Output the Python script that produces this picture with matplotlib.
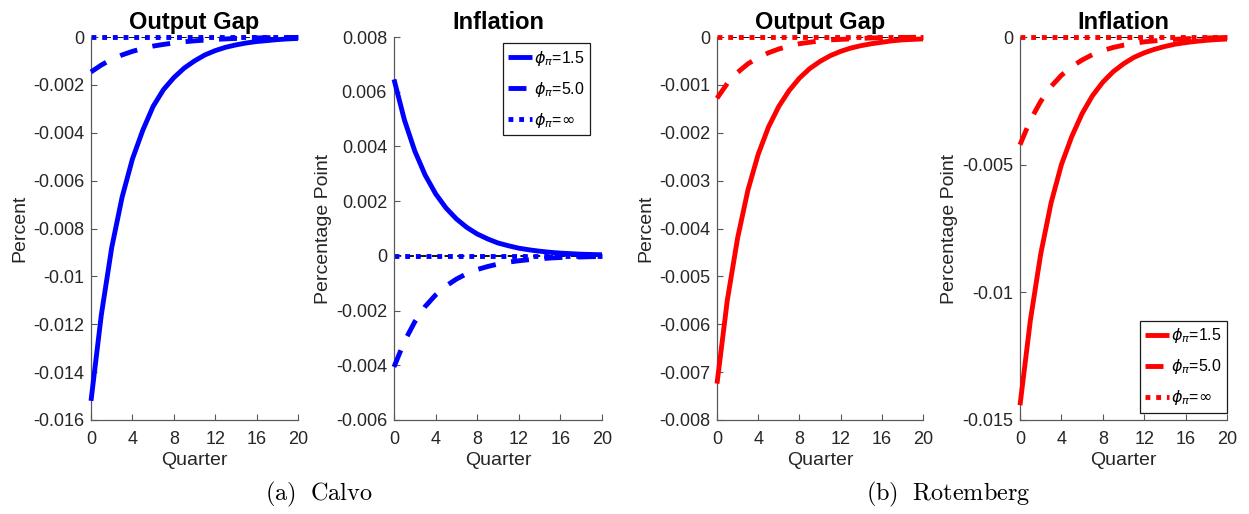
"""Impulse responses of output gap and inflation, Calvo vs Rotemberg pricing."""

import matplotlib
matplotlib.use("Agg")
import matplotlib.pyplot as plt

QUARTERS = list(range(21))

# (a) Calvo
CALVO_GAP_15 = [-0.0152, -0.0116, -0.0088, -0.0067, -0.0051, -0.0039, -0.0029, -0.0022,
                -0.0017, -0.0013, -0.0010, -0.00075, -0.00057, -0.00043, -0.00033,
                -0.00025, -0.00019, -0.00015, -0.00011, -0.00008, -0.00006]
CALVO_GAP_50 = [-0.00146, -0.00117, -0.00093, -0.00075, -0.0006, -0.00048, -0.00038,
                -0.00031, -0.00025, -0.0002, -0.00016, -0.00013, -0.0001, -0.00008,
                -0.00006, -0.00005, -0.00004, -0.00003, -0.000025, -0.00002, -0.000016]
CALVO_INF_15 = [0.00645, 0.00497, 0.00383, 0.00295, 0.00227, 0.00175, 0.00135, 0.00104,
                0.0008, 0.00062, 0.00047, 0.00037, 0.00028, 0.00022, 0.00017, 0.00013,
                0.0001, 0.00008, 0.00006, 0.00005, 0.00004]
CALVO_INF_50 = [-0.00406, -0.00313, -0.00241, -0.00185, -0.00143, -0.0011, -0.00085,
                -0.00065, -0.0005, -0.00039, -0.0003, -0.00023, -0.00018, -0.00014,
                -0.00011, -0.00008, -0.00006, -0.00005, -0.00004, -0.00003, -0.00002]

# (b) Rotemberg
ROT_GAP_15 = [-0.00724, -0.0055, -0.0042, -0.0032, -0.00245, -0.00188, -0.00145, -0.00112,
              -0.00086, -0.00066, -0.00051, -0.00039, -0.0003, -0.00023, -0.00018,
              -0.00014, -0.00011, -0.00008, -0.00006, -0.00005, -0.00004]
ROT_GAP_50 = [-0.00128, -0.00097, -0.00074, -0.00056, -0.00043, -0.00033, -0.00025,
              -0.00019, -0.00014, -0.00011, -0.00008, -0.00006, -0.00005, -0.00004,
              -0.00003, -0.00002, -0.000015, -0.000012, -0.000009, -0.000007, -0.000005]
ROT_INF_15 = [-0.01442, -0.0111, -0.0085, -0.0065, -0.005, -0.0039, -0.003, -0.0023,
              -0.00177, -0.00136, -0.00105, -0.0008, -0.00062, -0.00048, -0.00037,
              -0.00028, -0.00022, -0.00017, -0.00013, -0.0001, -0.00008]
ROT_INF_50 = [-0.00422, -0.00326, -0.00252, -0.00194, -0.0015, -0.00116, -0.0009,
              -0.00069, -0.00053, -0.00041, -0.00032, -0.00025, -0.00019, -0.00015,
              -0.00011, -0.00009, -0.00007, -0.00005, -0.00004, -0.00003, -0.00002]

# phi_pi = infinity: both variables stay at zero
STRICT = [0.0] * 21

X_TICKS = [0, 4, 8, 12, 16, 20]
YT_CALVO_GAP = [-0.016, -0.014, -0.012, -0.01, -0.008, -0.006, -0.004, -0.002, 0]
YL_CALVO_GAP = ["-0.016", "-0.014", "-0.012", "-0.01", "-0.008", "-0.006", "-0.004", "-0.002", "0"]
YT_CALVO_INF = [-0.006, -0.004, -0.002, 0, 0.002, 0.004, 0.006, 0.008]
YL_CALVO_INF = ["-0.006", "-0.004", "-0.002", "0", "0.002", "0.004", "0.006", "0.008"]
YT_ROT_GAP = [-0.008, -0.007, -0.006, -0.005, -0.004, -0.003, -0.002, -0.001, 0]
YL_ROT_GAP = ["-0.008", "-0.007", "-0.006", "-0.005", "-0.004", "-0.003", "-0.002", "-0.001", "0"]
YT_ROT_INF = [-0.015, -0.01, -0.005, 0]
YL_ROT_INF = ["-0.015", "-0.01", "-0.005", "0"]

LABELS = [r"$\phi_{\pi}$=1.5", r"$\phi_{\pi}$=5.0", r"$\phi_{\pi}$=$\infty$"]

FONT = ["Liberation Sans", "DejaVu Sans"]
W, H = 1249, 514


def px_rect(left, right, top, bottom):
    return [left / W, 1 - bottom / H, (right - left) / W, (bottom - top) / H]


def panel(fig, rect, title, ylabel, solid, dashed, color, yticks, ylabels, legend=None):
    ax = fig.add_axes(rect)
    ax.axhline(0, color="k", ls=(0, (4, 3)), lw=1.3, zorder=1)
    lw = 3.5
    ax.plot(QUARTERS, solid, color=color, lw=lw, solid_capstyle="butt",
            clip_on=False, zorder=3, label=LABELS[0])
    ax.plot(QUARTERS, dashed, color=color, lw=lw, ls=(0, (3.7, 3.2)),
            dash_capstyle="butt", clip_on=False, zorder=3, label=LABELS[1])
    ax.plot(QUARTERS, STRICT, color=color, lw=lw, ls=(0, (1.0, 1.2)),
            dash_capstyle="butt", clip_on=False, zorder=2, label=LABELS[2])

    ax.set_xlim(0, 20)
    ax.set_ylim(yticks[0], yticks[-1])
    ax.set_xticks(X_TICKS)
    ax.set_xticklabels([str(t) for t in X_TICKS])
    ax.set_yticks(yticks)
    ax.set_yticklabels(ylabels)
    for side in ("top", "right"):
        ax.spines[side].set_visible(False)
    for side in ("left", "bottom"):
        ax.spines[side].set_color("0.35")
        ax.spines[side].set_linewidth(0.9)
    ax.tick_params(direction="in", length=4, width=0.8, color="0.35",
                   labelcolor="0.15", labelsize=13)
    ax.tick_params(axis="x", pad=8)
    ax.tick_params(axis="y", pad=5)
    ax.set_title(title, fontsize=17, fontweight="bold", pad=6)
    ax.set_xlabel("Quarter", fontsize=14, color="0.15", labelpad=3)
    ax.set_ylabel(ylabel, fontsize=14, color="0.15", labelpad=3)

    if legend is not None:
        loc, anchor = legend
        leg = ax.legend(loc=loc, bbox_to_anchor=anchor, borderaxespad=0,
                        fontsize=11.5, handlelength=1.5, handletextpad=0.1,
                        labelspacing=0.75, borderpad=0.35, fancybox=False,
                        framealpha=1, edgecolor="0.1")
        leg.get_frame().set_linewidth(0.9)
    return ax


def main():
    plt.rcParams["font.family"] = FONT
    plt.rcParams["axes.unicode_minus"] = False
    fig = plt.figure(figsize=(W / 100, H / 100), dpi=100)

    panel(fig, px_rect(91, 298, 37, 420), "Output Gap", "Percent",
          CALVO_GAP_15, CALVO_GAP_50, "blue", YT_CALVO_GAP, YL_CALVO_GAP)
    panel(fig, px_rect(394, 602, 37, 420), "Inflation", "Percentage Point",
          CALVO_INF_15, CALVO_INF_50, "blue", YT_CALVO_INF, YL_CALVO_INF,
          legend=("upper right", (1 - 12 / 208, 1 - 6 / 383)))
    panel(fig, px_rect(717, 923, 37, 420), "Output Gap", "Percent",
          ROT_GAP_15, ROT_GAP_50, "red", YT_ROT_GAP, YL_ROT_GAP)
    panel(fig, px_rect(1020, 1227, 37, 420), "Inflation", "Percentage Point",
          ROT_INF_15, ROT_INF_50, "red", YT_ROT_INF, YL_ROT_INF,
          legend=("lower right", (1.0, 7 / 383)))

    fig.text(265 / W, 1 - 494 / H, r"$\mathrm{(a)\ \ Calvo}$", fontsize=17.5,
             math_fontfamily="cm", va="center", ha="left")
    fig.text(866 / W, 1 - 494 / H, r"$\mathrm{(b)\ \ Rotemberg}$", fontsize=17.5,
             math_fontfamily="cm", va="center", ha="left")

    fig.savefig("out.png", dpi=100)
    plt.close(fig)


if __name__ == "__main__":
    main()
